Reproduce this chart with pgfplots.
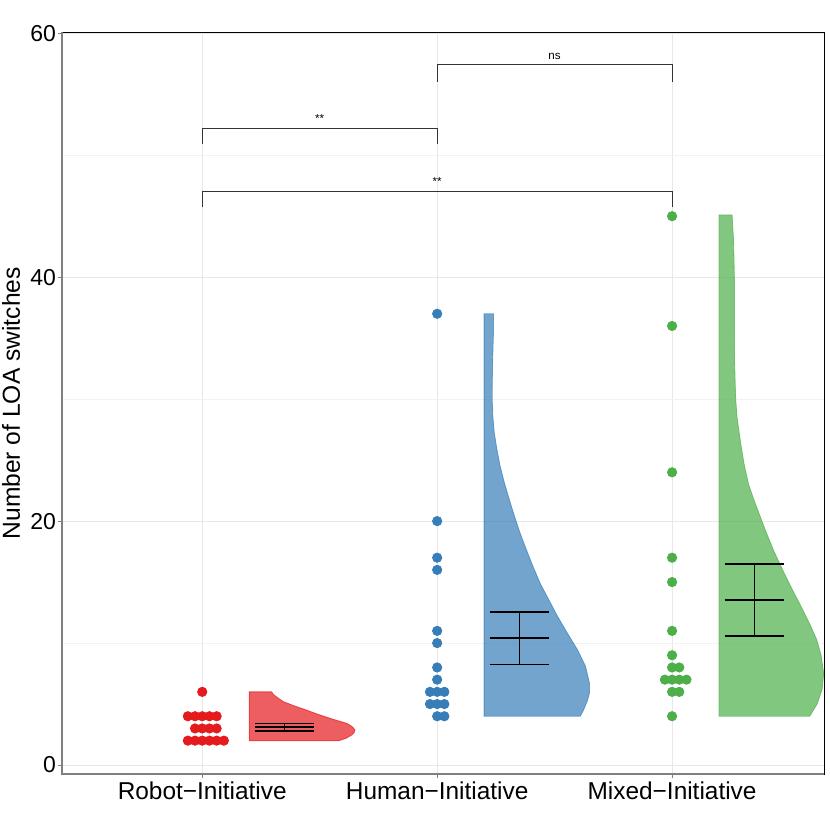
\documentclass[border=0pt]{standalone}
\usepackage{fontspec}
\setmainfont{Liberation Sans}
\usepackage{pgfplots}
\pgfplotsset{compat=1.18}
\definecolor{cred}{HTML}{E41A1C}
\definecolor{cblue}{HTML}{377EB8}
\definecolor{cgreen}{HTML}{4DAF4A}
\begin{document}
\begin{tikzpicture}
\begin{axis}[name=ax, scale only axis, width=381.15pt, height=371pt,
  xmin=0.403, xmax=3.648, ymin=-0.76, ymax=60.08,
  xtick={1,2,3},
  xticklabels={Robot−Initiative, Human−Initiative, Mixed−Initiative},
  ytick={0,20,40,60}, minor ytick={10,30,50},
  grid=both,
  major grid style={color=black!9, line width=0.5pt},
  minor grid style={color=black!5, line width=0.35pt},
  axis line style={black, line width=0.4pt},
  tick align=outside, tick pos=left,
  major tick length=2pt, minor tick length=0pt,
  tick style={black!50, line width=0.5pt},
  xticklabel style={font=\fontsize{12.2}{14}\selectfont, yshift=2pt},
  yticklabel style={font=\fontsize{11.5}{14}\selectfont, xshift=2.5pt},
  /pgf/number format/assume math mode=true,
  unbounded coords=jump,
]
% violins
\addplot[fill=cred, fill opacity=0.7, draw=cred, draw opacity=0.7, line width=0.4pt] coordinates {
(1.2,2) (1.2,6) (1.2954,6) (1.3022,5.8) (1.3150,5.6) (1.3299,5.4) (1.3448,5.2) (1.3916,4.85) (1.4444,4.5) (1.4938,4.15) (1.5436,3.83) (1.5832,3.6) (1.6147,3.42) (1.6301,3.25) (1.6407,3.1) (1.6501,2.87) (1.6462,2.65) (1.6360,2.46) (1.6130,2.2) (1.5832,2.0)} -- cycle;
\addplot[fill=cblue, fill opacity=0.7, draw=cblue, draw opacity=0.7, line width=0.4pt] coordinates {
(2.2,4) (2.2,37) (2.2396,37) (2.2396,35.5) (2.2353,32.7) (2.2341,30) (2.2370,28.6) (2.2426,27.3) (2.2541,25.9) (2.2681,24.5) (2.2852,23.2) (2.3065,21.8) (2.3290,20.4) (2.3533,19.0) (2.3788,17.7) (2.4074,16.3) (2.4384,14.9) (2.4738,13.6) (2.5121,12.2) (2.5547,10.8) (2.5973,9.45) (2.6313,8.1) (2.6484,6.7) (2.6484,5.9) (2.6399,5.3) (2.6228,4.5) (2.6088,4.0)} -- cycle;
\addplot[fill=cgreen, fill opacity=0.7, draw=cgreen, draw opacity=0.7, line width=0.4pt] coordinates {
(3.2,4) (3.2,45.1) (3.2554,45.1) (3.2617,43) (3.2651,40) (3.2651,36) (3.2660,33) (3.2707,30) (3.2766,28.5) (3.2852,27.3) (3.2950,26) (3.3077,24.55) (3.3256,23) (3.3473,21.8) (3.3724,20.5) (3.4001,19.1) (3.4342,17.5) (3.4704,16) (3.5087,14.5) (3.5492,13) (3.5875,11.5) (3.6152,10.3) (3.6343,9) (3.6454,7.5) (3.6386,6.2) (3.6173,5) (3.5858,4.0)} -- cycle;
% dots
\addplot[only marks, mark=*, mark size=2.33pt, color=cred] coordinates {
(1,6)
(0.9387,4) (0.9693,4) (1,4) (1.0307,4) (1.0613,4)
(0.9693,3) (1,3) (1.0307,3) (1.0613,3)
(0.9387,2) (0.9693,2) (1,2) (1.0307,2) (1.0613,2) (1.092,2)};
\addplot[only marks, mark=*, mark size=2.33pt, color=cblue] coordinates {
(2,37) (2,20) (2,17) (2,16) (2,11) (2,10) (2,8) (2,7)
(1.9693,6) (2,6) (2.0307,6)
(1.9693,5) (2,5) (2.0307,5)
(2,4) (2.0307,4)};
\addplot[only marks, mark=*, mark size=2.33pt, color=cgreen] coordinates {
(3,45) (3,36) (3,24) (3,17) (3,15) (3,11) (3,9)
(3,8) (3.0307,8)
(2.9693,7) (3,7) (3.0307,7) (3.0613,7)
(3,6) (3.0307,6)
(3,4)};
% mean +- error bars
\addplot[black, line width=0.8pt] coordinates {
(1.224,3.42) (1.476,3.42) (nan,nan)
(1.224,3.10) (1.476,3.10) (nan,nan)
(1.224,2.79) (1.476,2.79) (nan,nan)
(1.35,2.79) (1.35,3.42)};
\addplot[black, line width=0.8pt] coordinates {
(2.224,12.56) (2.476,12.56) (nan,nan)
(2.224,10.40) (2.476,10.40) (nan,nan)
(2.224,8.23) (2.476,8.23) (nan,nan)
(2.35,8.23) (2.35,12.56)};
\addplot[black, line width=0.8pt] coordinates {
(3.224,16.48) (3.476,16.48) (nan,nan)
(3.224,13.52) (3.476,13.52) (nan,nan)
(3.224,10.59) (3.476,10.59) (nan,nan)
(3.35,10.59) (3.35,16.48)};
% significance brackets
\addplot[black!80, line width=0.5pt] coordinates {(1,50.9) (1,52.2) (2,52.2) (2,50.9)};
\addplot[black!80, line width=0.5pt] coordinates {(2,56.03) (2,57.4) (3,57.4) (3,56.03)};
\addplot[black!80, line width=0.5pt] coordinates {(1,45.76) (1,47.05) (3,47.05) (3,45.76)};
\node[anchor=base, font=\fontsize{5.8}{7}\selectfont, inner sep=0pt] at (axis cs:1.5,52.67) {**};
\node[anchor=base, font=\fontsize{5.8}{7}\selectfont, inner sep=0pt] at (axis cs:2.5,57.87) {ns};
\node[anchor=base, font=\fontsize{5.8}{7}\selectfont, inner sep=0pt] at (axis cs:2,47.52) {**};
\end{axis}
\draw[black!50, line width=1pt] (ax.north west) -- (ax.south west) -- (ax.south east);
\node[rotate=90, anchor=base, inner sep=0pt, font=\fontsize{12.3}{14}\selectfont] at ([xshift=-21pt]ax.west) {Number of LOA switches};
\path[use as bounding box] ([xshift=-31pt,yshift=-27.85pt]ax.south west) rectangle ([xshift=2.85pt,yshift=16.15pt]ax.north east);
\end{tikzpicture}
\end{document}
